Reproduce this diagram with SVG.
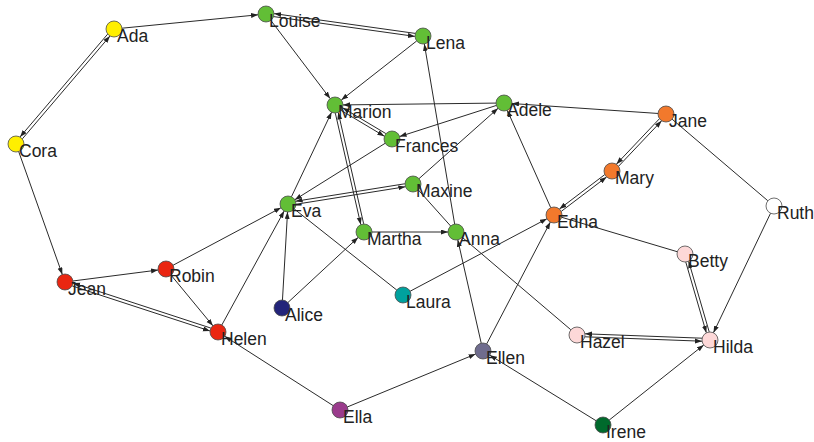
<svg xmlns="http://www.w3.org/2000/svg" width="814" height="442" viewBox="0 0 814 442">
  <defs>
    <marker id="arrow" markerUnits="userSpaceOnUse" markerWidth="8" markerHeight="6" refX="7" refY="2.5" orient="auto">
      <path d="M0,0 L7,2.5 L0,5 z" fill="#222"/>
    </marker>
  </defs>
  <style>
    .e { stroke: #2a2a2a; stroke-width: 1; fill: none; }
    .d { marker-end: url(#arrow); }
    .n { stroke: #4a4a4a; stroke-width: 0.8; }
    .lbl { font-family: "Liberation Sans", Arial, sans-serif; font-size: 17.5px; fill: #222; }
    .yellow { fill: #FFEF00; }
    .green { fill: #62BE36; }
    .orange { fill: #F2792C; }
    .red { fill: #EA2611; }
    .teal { fill: #00A19E; }
    .navy { fill: #23247A; }
    .purple { fill: #9A3B8C; }
    .slate { fill: #6F6C8E; }
    .dkgreen { fill: #006A2C; }
    .pink { fill: #FDD8D8; }
    .white { fill: #FFFFFF; }
  </style>
  <rect width="814" height="442" fill="#ffffff"/>

  <g id="edges">
    <!-- directed edges -->
    <line class="e d" x1="121.96" y1="28.21" x2="258.04" y2="14.79"/>
    <line class="e d" x1="18.68" y1="151.54" x2="62.32" y2="274.46"/>
    <line class="e d" x1="270.83" y1="20.38" x2="330.17" y2="98.62"/>
    <line class="e d" x1="416.70" y1="40.94" x2="341.30" y2="100.06"/>
    <line class="e d" x1="496" y1="103.09" x2="343" y2="104.91"/>
    <line class="e d" x1="496.38" y1="105.45" x2="399.62" y2="136.55"/>
    <line class="e d" x1="385.22" y1="143.24" x2="294.78" y2="199.76"/>
    <line class="e d" x1="291.43" y1="196.78" x2="331.57" y2="112.22"/>
    <line class="e d" x1="418.98" y1="178.68" x2="498.02" y2="108.32"/>
    <line class="e d" x1="454.67" y1="224.11" x2="424.33" y2="43.89"/>
    <line class="e d" x1="550.74" y1="207.70" x2="507.26" y2="110.30"/>
    <line class="e d" x1="658.02" y1="113.46" x2="511.98" y2="103.54"/>
    <line class="e d" x1="770.55" y1="213.22" x2="713.45" y2="332.78"/>
    <line class="e d" x1="609.26" y1="420.02" x2="703.74" y2="344.98"/>
    <line class="e d" x1="596.19" y1="420.80" x2="489.81" y2="355.20"/>
    <line class="e d" x1="481.23" y1="343.20" x2="457.77" y2="239.80"/>
    <line class="e d" x1="486.70" y1="343.90" x2="550.30" y2="222.10"/>
    <line class="e d" x1="410.07" y1="291.26" x2="546.93" y2="218.74"/>
    <line class="e d" x1="347.39" y1="406.95" x2="475.61" y2="354.05"/>
    <line class="e d" x1="333.26" y1="405.69" x2="224.74" y2="336.31"/>
    <line class="e d" x1="221.84" y1="324.98" x2="284.16" y2="211.02"/>
    <line class="e d" x1="173.06" y1="265.24" x2="280.94" y2="207.76"/>
    <line class="e d" x1="171.09" y1="275.17" x2="212.91" y2="325.83"/>
    <line class="e d" x1="72.94" y1="280.98" x2="158.06" y2="270.02"/>
    <line class="e d" x1="282.46" y1="300.02" x2="287.54" y2="211.98"/>
    <line class="e d" x1="287.87" y1="302.56" x2="358.13" y2="237.44"/>
    <line class="e d" x1="372" y1="232" x2="448" y2="232"/>

    <!-- plain edges -->
    <line class="e" x1="418.34" y1="189.96" x2="450.66" y2="226.04"/>
    <line class="e" x1="294.27" y1="208.97" x2="396.73" y2="290.03"/>
    <line class="e" x1="462.09" y1="237.18" x2="570.91" y2="329.82"/>
    <line class="e" x1="672.09" y1="119.18" x2="767.91" y2="200.82"/>
    <line class="e" x1="561.67" y1="217.28" x2="677.33" y2="251.72"/>

    <!-- mutual pairs -->
    <line class="e d" x1="22.33" y1="138.88" x2="109.95" y2="36.06"/>
    <line class="e d" x1="107.67" y1="34.12" x2="20.05" y2="136.94"/>
    <line class="e d" x1="273.71" y1="16.60" x2="414.87" y2="36.38"/>
    <line class="e d" x1="415.29" y1="33.40" x2="274.13" y2="13.62"/>
    <line class="e d" x1="341.10" y1="110.39" x2="384.36" y2="136.19"/>
    <line class="e d" x1="385.90" y1="133.61" x2="342.64" y2="107.81"/>
    <line class="e d" x1="335.32" y1="113.13" x2="360.76" y2="224.53"/>
    <line class="e d" x1="363.68" y1="223.87" x2="338.24" y2="112.47"/>
    <line class="e d" x1="296.14" y1="204.22" x2="405.34" y2="186.74"/>
    <line class="e d" x1="404.86" y1="183.78" x2="295.66" y2="201.26"/>
    <line class="e d" x1="618.59" y1="166.22" x2="661.59" y2="120.84"/>
    <line class="e d" x1="659.41" y1="118.78" x2="616.41" y2="164.16"/>
    <line class="e d" x1="561.28" y1="211.37" x2="606.54" y2="177.03"/>
    <line class="e d" x1="604.72" y1="174.63" x2="559.46" y2="208.97"/>
    <line class="e d" x1="685.79" y1="262.10" x2="706.33" y2="332.74"/>
    <line class="e d" x1="709.21" y1="331.90" x2="688.67" y2="261.26"/>
    <line class="e d" x1="584.93" y1="336.80" x2="701.95" y2="341.20"/>
    <line class="e d" x1="702.07" y1="338.20" x2="585.05" y2="333.80"/>
    <line class="e d" x1="72.13" y1="285.91" x2="209.93" y2="330.95"/>
    <line class="e d" x1="210.87" y1="328.09" x2="73.07" y2="283.05"/>
  </g>

  <g id="node-ada"><circle class="n yellow" cx="114" cy="29" r="8"/><text class="lbl" x="117" y="42">Ada</text></g>
  <g id="node-louise"><circle class="n green" cx="266" cy="14" r="8"/><text class="lbl" x="269" y="27">Louise</text></g>
  <g id="node-lena"><circle class="n green" cx="423" cy="36" r="8"/><text class="lbl" x="426" y="49">Lena</text></g>
  <g id="node-cora"><circle class="n yellow" cx="16" cy="144" r="8"/><text class="lbl" x="19" y="157">Cora</text></g>
  <g id="node-marion"><circle class="n green" cx="335" cy="105" r="8"/><text class="lbl" x="338" y="118">Marion</text></g>
  <g id="node-adele"><circle class="n green" cx="504" cy="103" r="8"/><text class="lbl" x="507" y="116">Adele</text></g>
  <g id="node-jane"><circle class="n orange" cx="666" cy="114" r="8"/><text class="lbl" x="669" y="127">Jane</text></g>
  <g id="node-frances"><circle class="n green" cx="392" cy="139" r="8"/><text class="lbl" x="395" y="152">Frances</text></g>
  <g id="node-mary"><circle class="n orange" cx="612" cy="171" r="8"/><text class="lbl" x="615" y="184">Mary</text></g>
  <g id="node-maxine"><circle class="n green" cx="413" cy="184" r="8"/><text class="lbl" x="416" y="197">Maxine</text></g>
  <g id="node-eva"><circle class="n green" cx="288" cy="204" r="8"/><text class="lbl" x="291" y="217">Eva</text></g>
  <g id="node-ruth"><circle class="n white" cx="774" cy="206" r="8"/><text class="lbl" x="777" y="219">Ruth</text></g>
  <g id="node-edna"><circle class="n orange" cx="554" cy="215" r="8"/><text class="lbl" x="557" y="228">Edna</text></g>
  <g id="node-martha"><circle class="n green" cx="364" cy="232" r="8"/><text class="lbl" x="367" y="245">Martha</text></g>
  <g id="node-anna"><circle class="n green" cx="456" cy="232" r="8"/><text class="lbl" x="459" y="245">Anna</text></g>
  <g id="node-jean"><circle class="n red" cx="65" cy="282" r="8"/><text class="lbl" x="68" y="295">Jean</text></g>
  <g id="node-robin"><circle class="n red" cx="166" cy="269" r="8"/><text class="lbl" x="169" y="282">Robin</text></g>
  <g id="node-betty"><circle class="n pink" cx="685" cy="254" r="8"/><text class="lbl" x="688" y="267">Betty</text></g>
  <g id="node-laura"><circle class="n teal" cx="403" cy="295" r="8"/><text class="lbl" x="406" y="308">Laura</text></g>
  <g id="node-alice"><circle class="n navy" cx="282" cy="308" r="8"/><text class="lbl" x="285" y="321">Alice</text></g>
  <g id="node-helen"><circle class="n red" cx="218" cy="332" r="8"/><text class="lbl" x="221" y="345">Helen</text></g>
  <g id="node-hazel"><circle class="n pink" cx="577" cy="335" r="8"/><text class="lbl" x="580" y="348">Hazel</text></g>
  <g id="node-hilda"><circle class="n pink" cx="710" cy="340" r="8"/><text class="lbl" x="713" y="353">Hilda</text></g>
  <g id="node-ellen"><circle class="n slate" cx="483" cy="351" r="8"/><text class="lbl" x="486" y="364">Ellen</text></g>
  <g id="node-ella"><circle class="n purple" cx="340" cy="410" r="8"/><text class="lbl" x="343" y="423">Ella</text></g>
  <g id="node-irene"><circle class="n dkgreen" cx="603" cy="425" r="8"/><text class="lbl" x="606" y="438">Irene</text></g>
</svg>
